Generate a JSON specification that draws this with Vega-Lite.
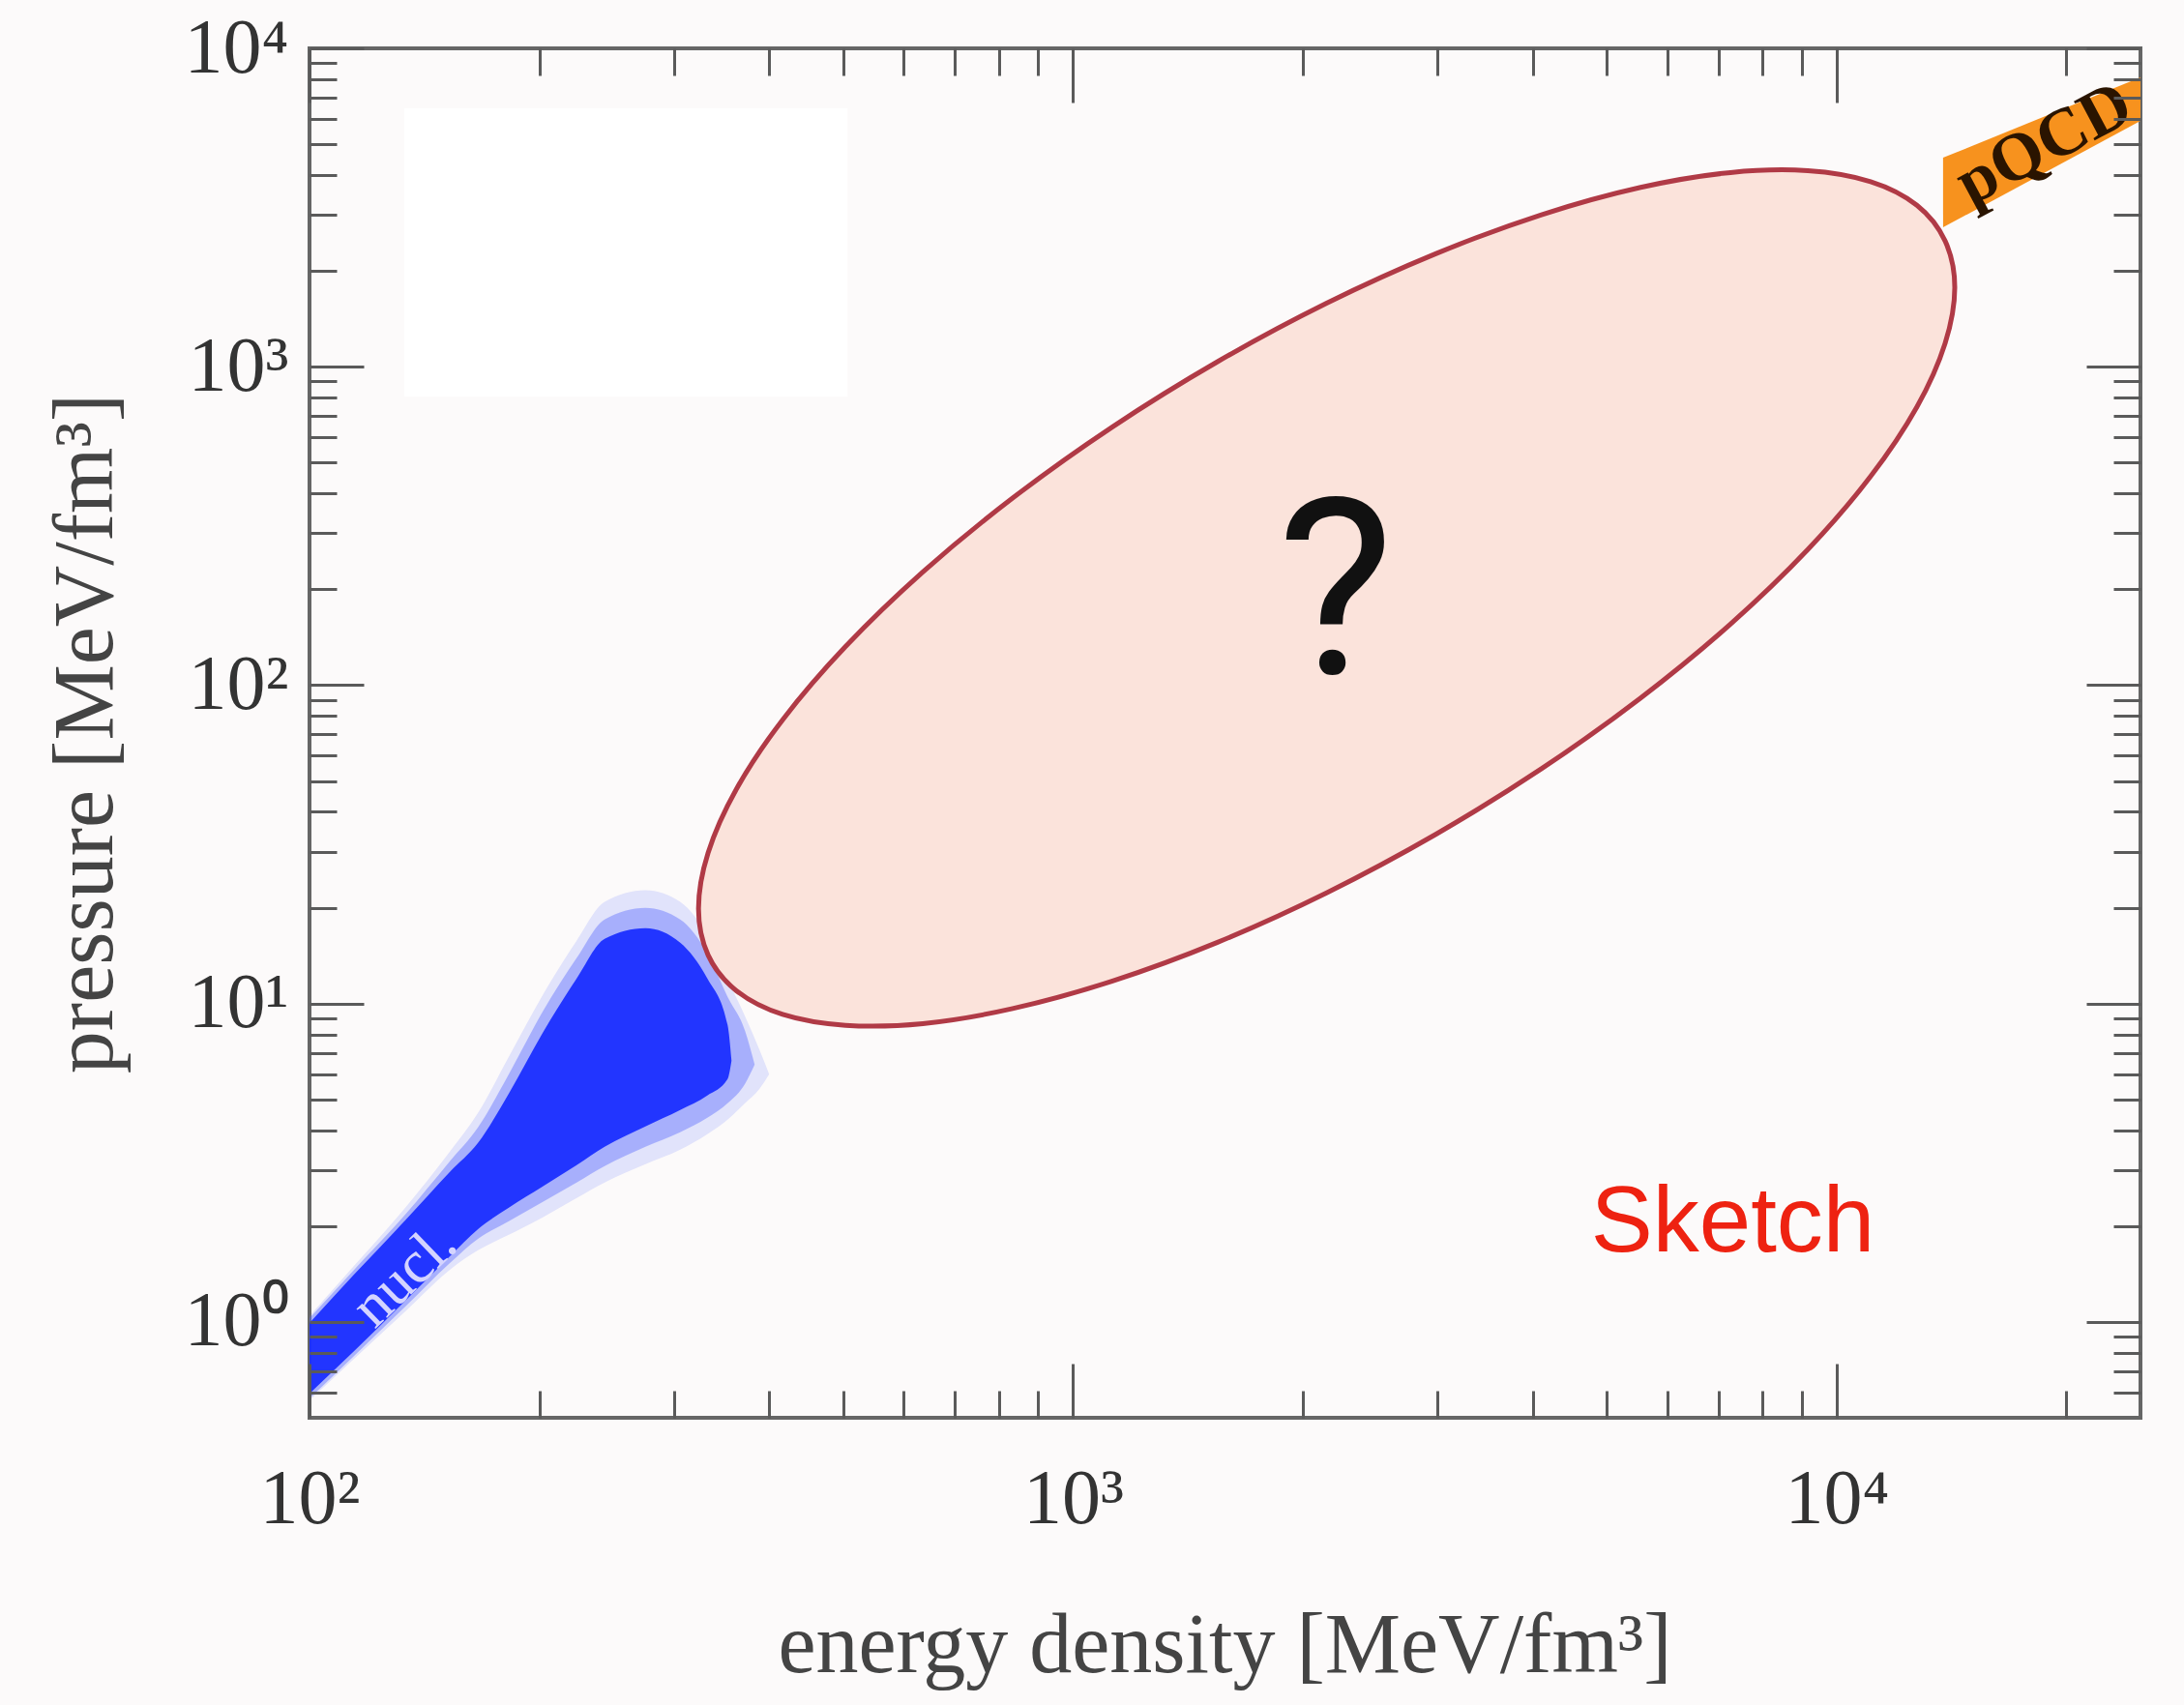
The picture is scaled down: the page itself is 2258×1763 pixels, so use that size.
{
  "$schema": "https://vega.github.io/schema/vega-lite/v6.json",
  "width": 1893,
  "height": 1416,
  "autosize": {"type": "none"},
  "padding": {"left": 320, "top": 50, "right": 45, "bottom": 297},
  "background": "#fcfafa",
  "config": {
    "view": {"stroke": "#666666", "strokeWidth": 4},
    "axis": {"grid": false, "domain": false, "labelFlush": false, "labelOverlap": false, "labelBound": false}
  },
  "datasets": {
    "box": [{"e1": 133.1, "e2": 506.6, "p1": 805, "p2": 6480}],
    "outer": [
      {"e": 100, "p_hi": 1.043, "p_lo": 0.5672},
      {"e": 114.4, "p_hi": 1.501, "p_lo": 0.7664},
      {"e": 133.5, "p_hi": 2.284, "p_lo": 1.08},
      {"e": 152.7, "p_hi": 3.428, "p_lo": 1.459},
      {"e": 166.2, "p_hi": 4.534, "p_lo": 1.679},
      {"e": 182.4, "p_hi": 6.804, "p_lo": 1.877},
      {"e": 202.1, "p_hi": 10.65, "p_lo": 2.13},
      {"e": 223.8, "p_hi": 15.76, "p_lo": 2.449},
      {"e": 243.5, "p_hi": 20.85, "p_lo": 2.74},
      {"e": 275.4, "p_hi": 22.68, "p_lo": 3.13},
      {"e": 305.8, "p_hi": 20.85, "p_lo": 3.475},
      {"e": 331.9, "p_hi": 16.32, "p_lo": 3.888},
      {"e": 352.8, "p_hi": 11.91, "p_lo": 4.318},
      {"e": 371.8, "p_hi": 9.13, "p_lo": 4.863},
      {"e": 388.5, "p_hi": 7.147, "p_lo": 5.401},
      {"e": 399.9, "p_hi": 6.0, "p_lo": 6.0}
    ],
    "halo": [
      {"e": 100, "p_hi": 1.028, "p_lo": 0.5752},
      {"e": 114.4, "p_hi": 1.459, "p_lo": 0.7826},
      {"e": 133.5, "p_hi": 2.175, "p_lo": 1.118},
      {"e": 152.7, "p_hi": 3.196, "p_lo": 1.532},
      {"e": 166.2, "p_hi": 4.082, "p_lo": 1.825},
      {"e": 182.4, "p_hi": 6.0, "p_lo": 2.071},
      {"e": 202.1, "p_hi": 9.456, "p_lo": 2.382},
      {"e": 223.8, "p_hi": 13.9, "p_lo": 2.74},
      {"e": 243.5, "p_hi": 18.38, "p_lo": 3.086},
      {"e": 275.4, "p_hi": 19.99, "p_lo": 3.55},
      {"e": 305.8, "p_hi": 18.38, "p_lo": 3.941},
      {"e": 331.9, "p_hi": 14.39, "p_lo": 4.377},
      {"e": 352.8, "p_hi": 10.5, "p_lo": 4.863},
      {"e": 371.8, "p_hi": 8.22, "p_lo": 5.593},
      {"e": 382.8, "p_hi": 6.434, "p_lo": 6.434}
    ],
    "core": [
      {"e": 100, "p_hi": 0.993, "p_lo": 0.5957},
      {"e": 114.4, "p_hi": 1.409, "p_lo": 0.8105},
      {"e": 133.5, "p_hi": 2.085, "p_lo": 1.166},
      {"e": 152.7, "p_hi": 2.959, "p_lo": 1.609},
      {"e": 166.2, "p_hi": 3.65, "p_lo": 1.957},
      {"e": 182.4, "p_hi": 5.215, "p_lo": 2.284},
      {"e": 202.1, "p_hi": 8.1, "p_lo": 2.664},
      {"e": 223.8, "p_hi": 11.99, "p_lo": 3.108},
      {"e": 243.5, "p_hi": 15.98, "p_lo": 3.55},
      {"e": 275.4, "p_hi": 17.26, "p_lo": 4.111},
      {"e": 305.8, "p_hi": 15.54, "p_lo": 4.631},
      {"e": 331.9, "p_hi": 11.99, "p_lo": 5.143},
      {"e": 352.8, "p_hi": 8.57, "p_lo": 5.792},
      {"e": 357.0, "p_hi": 6.62, "p_lo": 6.62}
    ],
    "ellipse": [
      {"i": 0, "e": 14280, "p": 1775},
      {"i": 1, "e": 13870, "p": 2484},
      {"i": 2, "e": 12740, "p": 3215},
      {"i": 3, "e": 11080, "p": 3815},
      {"i": 4, "e": 9167, "p": 4130},
      {"i": 5, "e": 7260, "p": 4074},
      {"i": 6, "e": 5538, "p": 3658},
      {"i": 7, "e": 4106, "p": 3001},
      {"i": 8, "e": 2985, "p": 2264},
      {"i": 9, "e": 2148, "p": 1583},
      {"i": 10, "e": 1546, "p": 1037},
      {"i": 11, "e": 1124, "p": 645.5},
      {"i": 12, "e": 833.3, "p": 386.8},
      {"i": 13, "e": 635.8, "p": 226.8},
      {"i": 14, "e": 503.5, "p": 132.2},
      {"i": 15, "e": 416.6, "p": 77.9},
      {"i": 16, "e": 362.3, "p": 47.15},
      {"i": 17, "e": 332.7, "p": 29.76},
      {"i": 18, "e": 323.2, "p": 19.86},
      {"i": 19, "e": 332.7, "p": 14.19},
      {"i": 20, "e": 362.3, "p": 10.97},
      {"i": 21, "e": 416.6, "p": 9.24},
      {"i": 22, "e": 503.5, "p": 8.54},
      {"i": 23, "e": 635.8, "p": 8.65},
      {"i": 24, "e": 833.3, "p": 9.64},
      {"i": 25, "e": 1124, "p": 11.75},
      {"i": 26, "e": 1546, "p": 15.57},
      {"i": 27, "e": 2148, "p": 22.27},
      {"i": 28, "e": 2985, "p": 33.99},
      {"i": 29, "e": 4106, "p": 54.61},
      {"i": 30, "e": 5538, "p": 91.14},
      {"i": 31, "e": 7260, "p": 155.5},
      {"i": 32, "e": 9167, "p": 266.6},
      {"i": 33, "e": 11080, "p": 452.5},
      {"i": 34, "e": 12740, "p": 747.7},
      {"i": 35, "e": 13870, "p": 1185}
    ],
    "pqcd": [
      {"e": 13785, "p_hi": 4534, "p_lo": 2740},
      {"e": 25000, "p_hi": 8106, "p_lo": 5916}
    ],
    "q": [{"e": 2206, "p": 108, "label": "?"}],
    "sketch": [{"e": 4765, "p": 1.667, "label": "Sketch"}],
    "nucl": [{"e": 133.1, "p": 1.40, "label": "nucl."}],
    "pqcdlabel": [{"e": 18700, "p": 5000, "label": "pQCD"}]
  },
  "resolve": {"axis": {"x": "independent", "y": "independent"}},
  "layer": [
    {
      "data": {"name": "box"},
      "mark": {"type": "rect", "color": "#ffffff"},
      "encoding": {
        "x": {"field": "e1", "type": "quantitative", "scale": {"type": "log", "domain": [100, 25000], "nice": false},
          "axis": {"orient": "bottom", "values": [200,300,400,500,600,700,800,900,2000,3000,4000,5000,6000,7000,8000,9000,20000], "tickSize": -28, "labels": false, "title": null, "tickColor": "#5a5a5a", "tickWidth": 3, "zindex": 1}},
        "x2": {"field": "e2"},
        "y": {"field": "p1", "type": "quantitative", "scale": {"type": "log", "domain": [0.5, 10000], "nice": false},
          "axis": {"orient": "left", "values": [0.6,0.7,0.8,0.9,2,3,4,5,6,7,8,9,20,30,40,50,60,70,80,90,200,300,400,500,600,700,800,900,2000,3000,4000,5000,6000,7000,8000,9000], "tickSize": -28, "labels": false, "title": null, "tickColor": "#5a5a5a", "tickWidth": 3, "zindex": 1}},
        "y2": {"field": "p2"}
      }
    },
    {
      "data": {"name": "outer"},
      "mark": {"type": "area", "interpolate": "monotone", "color": "#6a78ff", "opacity": 0.18},
      "encoding": {
        "x": {"field": "e", "type": "quantitative", "scale": {"type": "log", "domain": [100, 25000], "nice": false}, "axis": null},
        "y": {"field": "p_hi", "type": "quantitative", "scale": {"type": "log", "domain": [0.5, 10000], "nice": false}, "axis": null},
        "y2": {"field": "p_lo"}
      }
    },
    {
      "data": {"name": "halo"},
      "mark": {"type": "area", "interpolate": "monotone", "color": "#4a5cff", "opacity": 0.38},
      "encoding": {
        "x": {"field": "e", "type": "quantitative", "scale": {"type": "log", "domain": [100, 25000], "nice": false},
          "axis": {"orient": "bottom", "values": [100, 1000, 10000], "tickSize": -56, "labels": false, "title": null, "tickColor": "#5a5a5a", "tickWidth": 3, "zindex": 1}},
        "y": {"field": "p_hi", "type": "quantitative", "scale": {"type": "log", "domain": [0.5, 10000], "nice": false},
          "axis": {"orient": "left", "values": [1, 10, 100, 1000, 10000], "tickSize": -56, "labels": false, "title": null, "tickColor": "#5a5a5a", "tickWidth": 3, "zindex": 1}},
        "y2": {"field": "p_lo"}
      }
    },
    {
      "data": {"name": "core"},
      "mark": {"type": "area", "interpolate": "monotone", "color": "#1a2eff", "opacity": 0.95},
      "encoding": {
        "x": {"field": "e", "type": "quantitative", "scale": {"type": "log", "domain": [100, 25000], "nice": false},
          "axis": {"orient": "top", "values": [200,300,400,500,600,700,800,900,2000,3000,4000,5000,6000,7000,8000,9000,20000], "tickSize": -28, "labels": false, "title": null, "tickColor": "#5a5a5a", "tickWidth": 3, "zindex": 1}},
        "y": {"field": "p_hi", "type": "quantitative", "scale": {"type": "log", "domain": [0.5, 10000], "nice": false},
          "axis": {"orient": "right", "values": [0.6,0.7,0.8,0.9,2,3,4,5,6,7,8,9,20,30,40,50,60,70,80,90,200,300,400,500,600,700,800,900,2000,3000,4000,5000,6000,7000,8000,9000], "tickSize": -28, "labels": false, "title": null, "tickColor": "#5a5a5a", "tickWidth": 3, "zindex": 1}},
        "y2": {"field": "p_lo"}
      }
    },
    {
      "data": {"name": "ellipse"},
      "mark": {"type": "line", "interpolate": "cardinal-closed", "fill": "#fbe3db", "stroke": "#b03a46", "strokeWidth": 5},
      "encoding": {
        "x": {"field": "e", "type": "quantitative", "scale": {"type": "log", "domain": [100, 25000], "nice": false},
          "axis": {"orient": "top", "values": [100, 1000, 10000], "tickSize": -56, "labels": false, "title": null, "tickColor": "#5a5a5a", "tickWidth": 3, "zindex": 1}},
        "y": {"field": "p", "type": "quantitative", "scale": {"type": "log", "domain": [0.5, 10000], "nice": false},
          "axis": {"orient": "right", "values": [1, 10, 100, 1000, 10000], "tickSize": -56, "labels": false, "title": null, "tickColor": "#5a5a5a", "tickWidth": 3, "zindex": 1}},
        "order": {"field": "i", "type": "quantitative"}
      }
    },
    {
      "data": {"name": "pqcd"},
      "mark": {"type": "area", "color": "#f7921e", "clip": true},
      "encoding": {
        "x": {"field": "e", "type": "quantitative", "scale": {"type": "log", "domain": [100, 25000], "nice": false},
          "axis": {"orient": "bottom", "values": [100, 1000, 10000], "ticks": false, "labelPadding": 45, "labelFont": "Liberation Serif", "labelFontSize": 80, "labelColor": "#333333",
            "labelExpr": "datum.value == 100 ? '10²' : datum.value == 1000 ? '10³' : '10⁴'",
            "title": "energy density [MeV/fm³]", "titleFont": "Liberation Serif", "titleFontSize": 88, "titleFontWeight": "normal", "titleColor": "#444444", "titleBaseline": "alphabetic", "titleY": 262, "titleX": 946}},
        "y": {"field": "p_hi", "type": "quantitative", "scale": {"type": "log", "domain": [0.5, 10000], "nice": false},
          "axis": {"orient": "left", "values": [1, 10, 100, 1000, 10000], "ticks": false, "labelPadding": 22, "labelFont": "Liberation Serif", "labelFontSize": 80, "labelColor": "#333333", "labelAlign": "right", "labelBaseline": "middle",
            "labelExpr": "datum.value < 5 ? '10⁰' : datum.value < 50 ? '10¹' : datum.value < 500 ? '10²' : datum.value < 5000 ? '10³' : '10⁴'",
            "title": "pressure [MeV/fm³]", "titleFont": "Liberation Serif", "titleFontSize": 88, "titleFontWeight": "normal", "titleColor": "#444444", "titleBaseline": "alphabetic", "titleAngle": 270, "titleAlign": "center", "titleX": -205, "titleY": 708}},
        "y2": {"field": "p_lo"}
      }
    },
    {
      "data": {"name": "q"},
      "mark": {"type": "text", "font": "Roboto", "fontWeight": 400, "fontSize": 255, "color": "#111111", "align": "center", "baseline": "alphabetic"},
      "encoding": {
        "x": {"field": "e", "type": "quantitative", "scale": {"type": "log", "domain": [100, 25000], "nice": false}, "axis": null},
        "y": {"field": "p", "type": "quantitative", "scale": {"type": "log", "domain": [0.5, 10000], "nice": false}, "axis": null},
        "text": {"field": "label"}
      }
    },
    {
      "data": {"name": "sketch"},
      "mark": {"type": "text", "font": "Liberation Sans", "fontSize": 96, "color": "#ee2211", "align": "left", "baseline": "alphabetic"},
      "encoding": {
        "x": {"field": "e", "type": "quantitative", "scale": {"type": "log", "domain": [100, 25000], "nice": false}, "axis": null},
        "y": {"field": "p", "type": "quantitative", "scale": {"type": "log", "domain": [0.5, 10000], "nice": false}, "axis": null},
        "text": {"field": "label"}
      }
    },
    {
      "data": {"name": "nucl"},
      "mark": {"type": "text", "font": "Liberation Serif", "fontSize": 62, "color": "#d4d4ff", "align": "center", "baseline": "middle", "angle": -44},
      "encoding": {
        "x": {"field": "e", "type": "quantitative", "scale": {"type": "log", "domain": [100, 25000], "nice": false}, "axis": null},
        "y": {"field": "p", "type": "quantitative", "scale": {"type": "log", "domain": [0.5, 10000], "nice": false}, "axis": null},
        "text": {"field": "label"}
      }
    },
    {
      "data": {"name": "pqcdlabel"},
      "mark": {"type": "text", "font": "Liberation Serif", "fontSize": 70, "fontWeight": "bold", "color": "#2a1400", "align": "center", "baseline": "middle", "angle": -28, "clip": true},
      "encoding": {
        "x": {"field": "e", "type": "quantitative", "scale": {"type": "log", "domain": [100, 25000], "nice": false}, "axis": null},
        "y": {"field": "p", "type": "quantitative", "scale": {"type": "log", "domain": [0.5, 10000], "nice": false}, "axis": null},
        "text": {"field": "label"}
      }
    }
  ]
}
